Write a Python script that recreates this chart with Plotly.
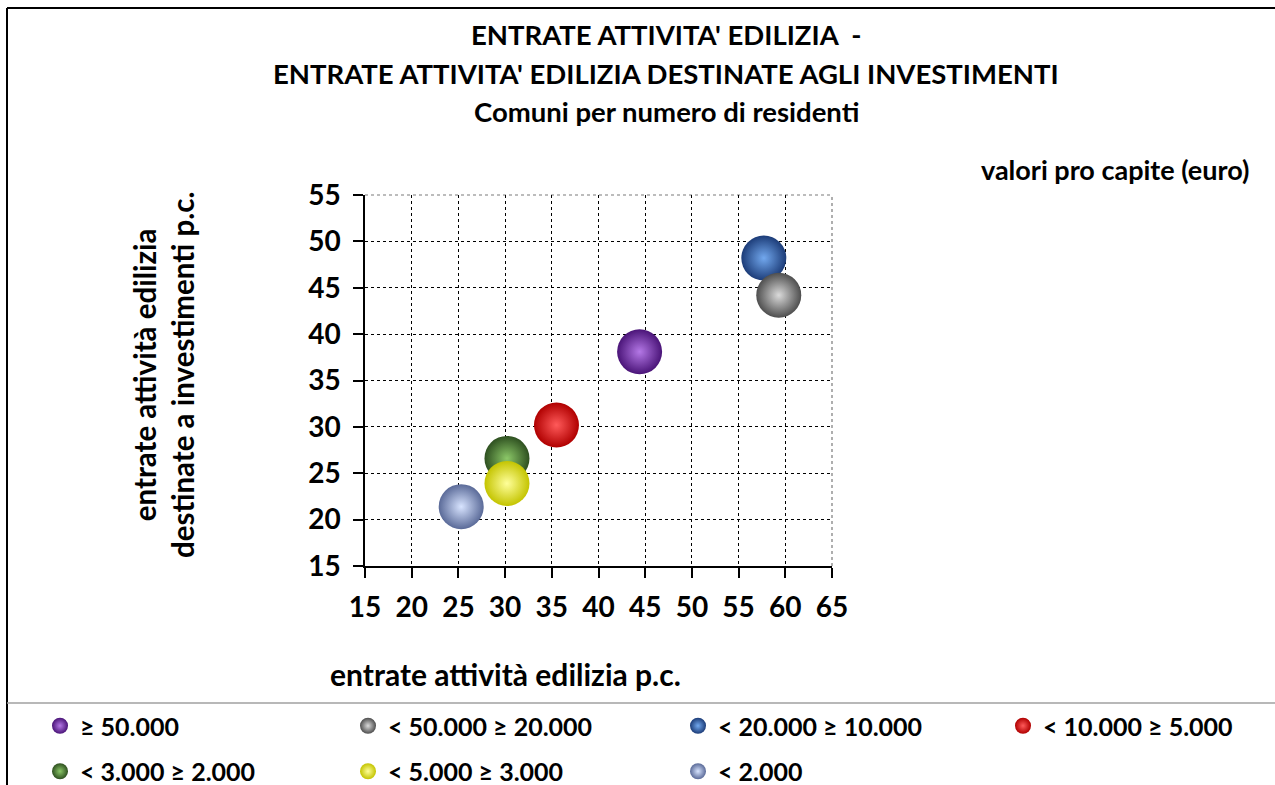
import plotly.graph_objects as go

# Population classes of the municipalities (legend order)
classes = ["≥ 50.000", "< 50.000 ≥ 20.000", "< 20.000 ≥ 10.000", "< 10.000 ≥ 5.000",
           "< 3.000 ≥ 2.000", "< 5.000 ≥ 3.000", "< 2.000"]
# Building-activity revenue per capita (euro)
entrate_edilizia = [44.4, 59.3, 57.7, 35.5, 30.2, 30.2, 25.3]
# Of which allocated to investments, per capita (euro)
entrate_investimenti = [38.1, 44.2, 48.2, 30.2, 26.6, 23.9, 21.4]

# Sphere shading: light core fading to a darker rim
core_colors = ["#B478E6", "#DADADA", "#72A8EE", "#FF5A5A", "#8CC868", "#FFFF9A", "#D8E4FF"]
rim_colors = ["#4A1478", "#4E4E4E", "#1C3C78", "#B00000", "#2E5020", "#C4C400", "#5A6A98"]
# painting sequence, so overlapping spheres stack correctly
paint_sequence = [0, 2, 1, 3, 4, 5, 6]

axis_ticks = [15, 20, 25, 30, 35, 40, 45, 50, 55, 60, 65]

FONT = "Lato"
W, H = 1275, 785


def px_x(p):
    return p / W


def px_y(p):
    return 1 - p / H


# legend columns: which legend each class is listed in
legend_ids = ["legend", "legend2", "legend3", "legend4", "legend", "legend2", "legend3"]

fig = go.Figure()
for i in paint_sequence:
    name = classes[i]
    fig.add_trace(go.Scatter(
        x=[entrate_edilizia[i]], y=[entrate_investimenti[i]],
        mode="markers", name=name,
        legend=legend_ids[i], legendgroup=name, legendrank=i + 1,
        marker=dict(size=45, color=rim_colors[i],
                    gradient=dict(type="radial", color=core_colors[i]),
                    line=dict(width=0)),
        hoverinfo="x+y+name",
    ))

tick_font = dict(family=FONT, size=28, color="black", weight="bold")
common_axis = dict(
    showgrid=True, gridcolor="black", griddash="dot", gridwidth=1,
    showline=True, linecolor="black", linewidth=1.5,
    ticks="outside", ticklen=10, tickcolor="black", tickwidth=1.5,
    zeroline=False, tickfont=tick_font, fixedrange=True, automargin=False,
    tickmode="array", tickvals=axis_ticks, layer="below traces",
)

legend_font = dict(family=FONT, size=25, color="black", weight="bold")
legend_cols = [40, 348, 678, 1003]
legend_layout = {}
for k, lx in enumerate(legend_cols):
    key = "legend" if k == 0 else f"legend{k + 1}"
    legend_layout[key] = dict(
        orientation="v", x=px_x(lx), y=px_y(703), xanchor="left", yanchor="top",
        font=legend_font, itemsizing="trace", tracegroupgap=10,
        bgcolor="rgba(0,0,0,0)", borderwidth=0,
    )

fig.update_layout(
    width=W, height=H,
    margin=dict(l=0, r=0, t=0, b=0, autoexpand=False),
    paper_bgcolor="white", plot_bgcolor="white",
    xaxis=dict(common_axis, range=[15, 65], domain=[px_x(365), px_x(832)],
               ticklabelstandoff=6),
    yaxis=dict(common_axis, range=[15, 55], domain=[px_y(566), px_y(195)],
               tickvals=[v for v in axis_ticks if v <= 55], ticklabelstandoff=7),
    showlegend=True,
    **legend_layout,
)

# dotted outline along the top and right edges of the plotting area
fig.add_shape(type="line", xref="x domain", yref="y domain", x0=0, x1=1, y0=1, y1=1,
              line=dict(color="#7A7A7A", width=1.2, dash="dot"), layer="below")
fig.add_shape(type="line", xref="x domain", yref="y domain", x0=1, x1=1, y0=0, y1=1,
              line=dict(color="#7A7A7A", width=1.2, dash="dot"), layer="below")

title_font = dict(family=FONT, size=27.5, color="black", weight="bold")
title_lines = ["ENTRATE ATTIVITA' EDILIZIA  -",
               "ENTRATE ATTIVITA' EDILIZIA DESTINATE AGLI INVESTIMENTI",
               "Comuni per numero di residenti"]
for k, line in enumerate(title_lines):
    fig.add_annotation(text=line, xref="paper", yref="paper", x=px_x(666), y=px_y(35 + 38.5 * k),
                       showarrow=False, font=title_font, xanchor="center", yanchor="middle")

fig.add_annotation(text="valori pro capite (euro)", xref="paper", yref="paper",
                   x=px_x(1251), y=px_y(170), showarrow=False, xanchor="right", yanchor="middle",
                   font=dict(family=FONT, size=27, color="black", weight="bold"))

fig.add_annotation(text="entrate attività edilizia p.c.", xref="paper", yref="paper",
                   x=px_x(505), y=px_y(674), showarrow=False, xanchor="center", yanchor="middle",
                   font=dict(family=FONT, size=30, color="black", weight="bold"))

fig.add_annotation(text="entrate attività edilizia<br>destinate a investimenti p.c.",
                   xref="paper", yref="paper", x=px_x(163), y=px_y(375), textangle=-90,
                   showarrow=False, xanchor="center", yanchor="middle",
                   font=dict(family=FONT, size=29.5, color="black", weight="bold"))

# Chart frame and legend separator
fig.add_shape(type="line", xref="paper", yref="paper", x0=px_x(7), x1=1, y0=px_y(8), y1=px_y(8),
              line=dict(color="black", width=2))
fig.add_shape(type="line", xref="paper", yref="paper", x0=px_x(7), x1=px_x(7), y0=px_y(8), y1=0,
              line=dict(color="black", width=2))
fig.add_shape(type="line", xref="paper", yref="paper", x0=px_x(7), x1=1, y0=px_y(703), y1=px_y(703),
              line=dict(color="#A0A0A0", width=1.5))

fig.write_html(
    "out.html",
    config={"displayModeBar": False, "responsive": False},
    post_script="document.body.style.margin='0';document.body.style.overflow='hidden';",
)
